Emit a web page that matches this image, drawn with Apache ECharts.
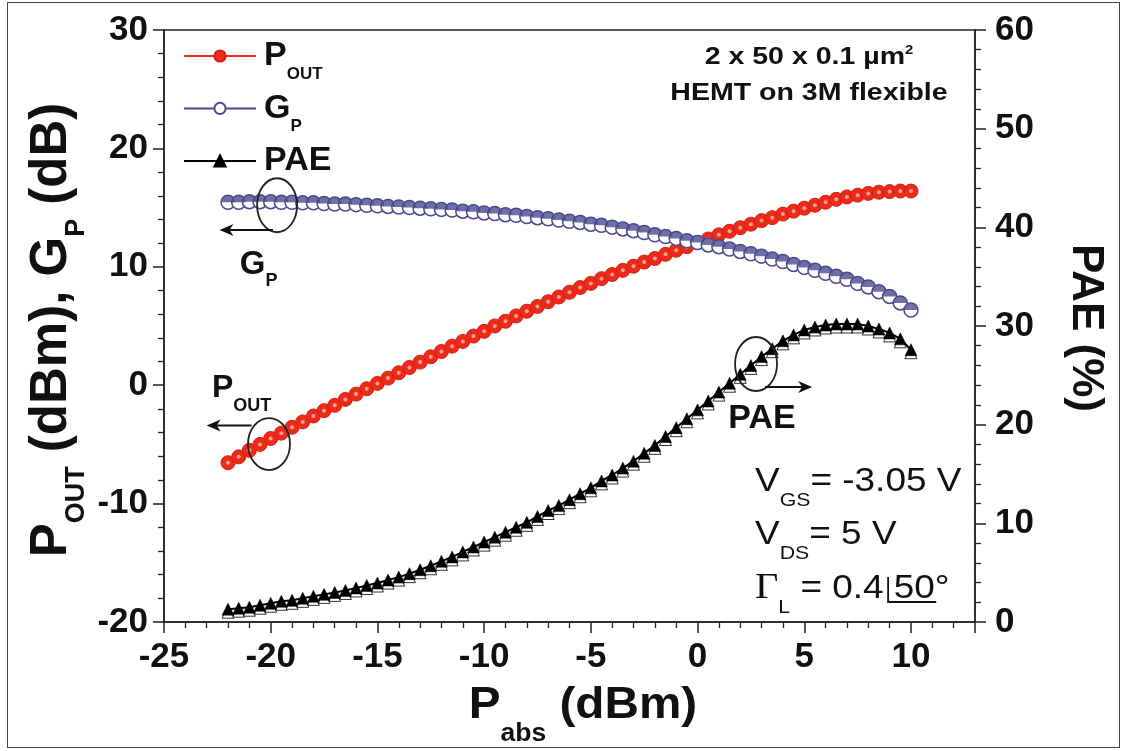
<!DOCTYPE html>
<html>
<head>
<meta charset="utf-8">
<script src="https://cdn.jsdelivr.net/npm/echarts@6/dist/echarts.min.js"></script>
<style>
html,body{margin:0;padding:0;background:#fff;}
#chart{position:absolute;left:0;top:0;width:1125px;height:751px;}
#frame{position:absolute;left:7px;top:2px;width:1113px;height:746px;border:1.5px solid #444;box-sizing:border-box;z-index:5;pointer-events:none;}
</style>
</head>
<body>
<div id="chart"></div>
<div id="frame"></div>
<script>
// ---- data ----
const pabs = [-22,-21.5,-21,-20.5,-20,-19.5,-19,-18.5,-18,-17.5,-17,-16.5,-16,-15.5,-15,-14.5,-14,-13.5,-13,-12.5,-12,-11.5,-11,-10.5,-10,-9.5,-9,-8.5,-8,-7.5,-7,-6.5,-6,-5.5,-5,-4.5,-4,-3.5,-3,-2.5,-2,-1.5,-1,-0.5,0,0.5,1,1.5,2,2.5,3,3.5,4,4.5,5,5.5,6,6.5,7,7.5,8,8.5,9,9.5,10];
const pout = [-6.55,-6.05,-5.5,-5.0,-4.5,-4.05,-3.55,-3.1,-2.6,-2.15,
  -1.7,-1.2,-0.75,-0.3,0.15,0.6,1.05,1.5,1.95,2.4,
  2.85,3.3,3.7,4.15,4.55,5.0,5.4,5.85,6.25,6.65,
  7.05,7.45,7.85,8.25,8.6,9.0,9.35,9.7,10.05,10.4,
  10.7,11.05,11.4,11.7,12.05,12.35,12.7,13.0,13.3,13.6,
  13.9,14.15,14.45,14.7,14.95,15.2,15.45,15.7,15.9,16.05,
  16.2,16.3,16.35,16.4,16.4];
const gp = [15.45,15.45,15.5,15.5,15.5,15.45,15.45,15.4,15.4,15.35,
  15.3,15.3,15.25,15.2,15.15,15.1,15.05,15.0,14.95,14.9,
  14.85,14.8,14.7,14.65,14.55,14.5,14.4,14.35,14.25,14.15,
  14.05,13.95,13.85,13.75,13.6,13.5,13.35,13.2,13.05,12.9,
  12.7,12.55,12.4,12.2,12.05,11.85,11.7,11.5,11.3,11.1,
  10.9,10.65,10.45,10.2,9.95,9.7,9.45,9.2,8.95,8.6,
  8.3,7.9,7.5,6.95,6.35];
const pae = [1.3,1.4,1.5,1.7,1.9,2.1,2.2,2.4,2.6,2.8,
  3.0,3.2,3.45,3.7,3.95,4.25,4.55,4.9,5.3,5.7,
  6.15,6.6,7.1,7.6,8.1,8.6,9.1,9.6,10.1,10.7,
  11.3,11.8,12.4,13.0,13.6,14.3,14.9,15.6,16.3,17.1,
  17.9,18.8,19.7,20.6,21.5,22.4,23.3,24.2,25.1,26.0,
  26.9,27.7,28.5,29.1,29.6,29.9,30.1,30.2,30.2,30.2,
  30.0,29.7,29.3,28.7,27.6];
const seriesNames = ['POUT','GP','PAE'];
const xAxisRange = [-25, 13, 5];
const yLeftRange = [-20, 30, 10];
const yRightRange = [0, 60, 10];

const FONT = '"Liberation Sans", Arial, sans-serif';
const SERIF = '"Liberation Serif", "Times New Roman", serif';
const RED = '#ee2a1b', BLUE = '#4b4a8e', BLACK = '#000', INK = '#111';

function pairs(ys){ return pabs.map((x,i)=>[x, ys[i]]); }

// rich-text styles with a real subscript: main token centred in a tall line,
// subscript token pinned to the bottom of that line
function subRich(fm, fs, drop, bold, extra){
  const d = drop + 0.35*(fm - fs);
  const L = fs, H = L + 2*d;
  const fw = bold ? 'bold' : 'normal';
  const r = {
    m:{fontFamily:FONT, fontWeight:fw, fontSize:fm, color:INK, fill:INK, lineHeight:H, verticalAlign:'middle'},
    s:{fontFamily:FONT, fontWeight:fw, fontSize:fs, color:INK, fill:INK, lineHeight:L, verticalAlign:'bottom'}
  };
  return Object.assign(r, extra||{});
}

const chart = echarts.init(document.getElementById('chart'), null, {renderer:'canvas'});

const axisCommon = {
  axisLine:{show:true, onZero:false, lineStyle:{color:'#222', width:1.5}},
  axisTick:{show:true, inside:false, length:11, lineStyle:{color:'#222', width:1.5}},
  minorTick:{show:true, splitNumber:5, length:6, lineStyle:{color:'#222', width:1.3}},
  splitLine:{show:false}
};
const tickFont = {color:INK, fontFamily:FONT, fontWeight:'bold'};

const option = {
  animation:false,
  backgroundColor:'#fff',
  grid:{left:164, right:150, top:30, bottom:129, show:true, borderColor:'#222', borderWidth:1.5, containLabel:false},
  xAxis:Object.assign({type:'value', min:xAxisRange[0], max:xAxisRange[1], interval:xAxisRange[2]}, axisCommon,
    {axisLabel:Object.assign({fontSize:35, margin:18, showMaxLabel:false}, tickFont)}),
  yAxis:[
    Object.assign({type:'value', min:yLeftRange[0], max:yLeftRange[1], interval:yLeftRange[2], position:'left'}, axisCommon,
      {axisLabel:Object.assign({fontSize:35, margin:16}, tickFont)}),
    Object.assign({type:'value', min:yRightRange[0], max:yRightRange[1], interval:yRightRange[2], position:'right'}, axisCommon,
      {axisLabel:Object.assign({fontSize:35, margin:20}, tickFont)})
  ],
  legend:{
    orient:'vertical', left:178, top:34, itemWidth:72, itemHeight:14, itemGap:9,
    data:seriesNames,
    formatter:function(n){
      if(n==='POUT') return '{m|P}{s|OUT}';
      if(n==='GP') return '{m|G}{s|P}';
      return '{m|PAE}';
    },
    textStyle:{fontFamily:FONT, fontWeight:'bold', fontSize:34, color:INK, padding:[0,0,0,3], rich:subRich(34, 17, 12, true)}
  },
  series:[
    {name:'PAE-shadow', type:'scatter', yAxisIndex:1, data:pairs(pae), symbol:'triangle', symbolSize:12, symbolOffset:[0,3],
      itemStyle:{color:'#fff', borderColor:'#000', borderWidth:1}, z:1, silent:true},
    {name:'PAE', type:'line', yAxisIndex:1, data:pairs(pae), symbol:'triangle', symbolSize:12, showAllSymbol:true,
      itemStyle:{color:BLACK, borderColor:'#000', borderWidth:0.5}, lineStyle:{color:BLACK, width:2}, z:2},
    {name:'POUT', type:'line', yAxisIndex:0, data:pairs(pout), symbol:'circle', symbolSize:14, showAllSymbol:true,
      itemStyle:{color:RED, borderColor:'#d42010', borderWidth:1}, lineStyle:{color:RED, width:2.5}, z:3},
    {name:'POUT-hl', type:'scatter', yAxisIndex:0, data:pairs(pout), symbol:'circle', symbolSize:4,
      itemStyle:{color:'#ffc2b5'}, z:4, silent:true},
    {name:'GP', type:'line', yAxisIndex:0, data:pairs(gp), symbol:'circle', symbolSize:14, showAllSymbol:true,
      itemStyle:{color:'#fff', borderColor:BLUE, borderWidth:1.5}, lineStyle:{color:BLUE, width:2.5}, z:5},
    {name:'GP-top', type:'scatter', yAxisIndex:0, data:pairs(gp), symbol:'path://M0,10 A10,10 0 0 1 20,10 Z',
      symbolSize:[14,7], symbolOffset:[0,-3.5], itemStyle:{color:BLUE}, z:6, silent:true}
  ]
};
chart.setOption(option);

// ---- annotations (placed in data coordinates of the left axis) ----
function px(x,y){ return chart.convertToPixel({xAxisIndex:0, yAxisIndex:0}, [x,y]); }
function arrow(p0, p1){
  const dir = Math.sign(p1[0]-p0[0]);
  return [
    {type:'polyline', shape:{points:[p0,[p1[0]-dir*6,p1[1]]]}, style:{stroke:INK, lineWidth:2}, z:20},
    {type:'polygon', shape:{points:[[p1[0],p1[1]],[p1[0]-dir*14,p1[1]-6],[p1[0]-dir*10,p1[1]],[p1[0]-dir*14,p1[1]+6]]}, style:{fill:INK}, z:20}
  ];
}
function ellipse(c, rx, ry){
  return {type:'ellipse', shape:{cx:c[0], cy:c[1], rx:rx, ry:ry}, style:{fill:null, stroke:'#222', lineWidth:1.8}, z:20};
}
function rtext(p, text, rich, align, extra){
  return Object.assign({type:'text', x:p[0], y:p[1], z:21,
    style:{text:text, rich:rich, align:align||'left', verticalAlign:'middle', fill:INK}}, extra||{});
}

const g = [];
g.push(ellipse(px(-19.7, 15.2), 20, 27));
g.push(...arrow(px(-19.9, 13.1), px(-22.4, 13.1)));
g.push(rtext(px(-21.45, 10.15), '{m|G}{s|P}', subRich(33, 18, 11, true)));
g.push(ellipse(px(-20.08, -4.97), 21, 26));
g.push(...arrow(px(-20.9, -3.4), px(-23.0, -3.4)));
g.push(rtext(px(-22.75, -0.28), '{m|P}{s|OUT}', subRich(32, 18, 13, true)));
g.push(ellipse(px(2.74, 1.79), 21, 27));
g.push(...arrow(px(3.16, -0.15), px(5.37, -0.15)));
g.push(rtext(px(3.02, -2.85), '{m|PAE}', subRich(34, 18, 10, true), 'center'));

// bias / load conditions
const condX = 755, condSX = 1.12;
const condRich = subRich(33, 19, 14, false, {
  g:{fontFamily:SERIF, fontSize:36, fill:INK, lineHeight:56, verticalAlign:'middle'},
  sp:{width:9, fontSize:33, lineHeight:56, verticalAlign:'middle'}
});
g.push(rtext([condX, 482], '{m|V}{s|GS}{m|= -3.05 V}', condRich, 'left', {scaleX:condSX}));
g.push(rtext([condX, 535], '{m|V}{s|DS}{m|= 5 V}', condRich, 'left', {scaleX:condSX}));
g.push(rtext([condX, 589], '{g|Γ}{s|L}{m| = 0.4}{sp| }{m|50°}', condRich, 'left', {scaleX:condSX}));
// phasor angle mark  |50
const mc = document.createElement('canvas').getContext('2d');
function w(t, f){ mc.font = f; return mc.measureText(t).width; }
const xBar = condX + condSX * (w('Γ', '36px "Liberation Serif"') + w('L', '19px "Liberation Sans"') + w(' = 0.4', '33px "Liberation Sans"') + 4);
const w50 = condSX * w('50', '33px "Liberation Sans"');
g.push({type:'polyline', shape:{points:[[xBar, 577],[xBar, 602],[xBar + w50 + 7, 602]]}, style:{stroke:INK, lineWidth:1.8}, z:21});

// device description
g.push({type:'text', x:809, y:58, scaleX:1.24, z:21, style:{text:'{m|2 x 50 x 0.1 µm}{p|2}', align:'center', verticalAlign:'middle',
  rich:{m:{fontFamily:FONT, fontWeight:'bold', fontSize:23, fill:INK, lineHeight:26, verticalAlign:'middle'},
        p:{fontFamily:FONT, fontWeight:'bold', fontSize:12, fill:INK, lineHeight:8, verticalAlign:'top'}}}});
g.push({type:'text', x:809, y:94, scaleX:1.24, z:21, style:{text:'HEMT on 3M flexible', align:'center', verticalAlign:'middle',
  font:'bold 23px ' + FONT, fill:INK}});

// axis titles
g.push({type:'text', x:583, y:706, scaleX:1.06, z:21,
  style:{text:'{m|P}{s|abs}{m| (dBm)}', align:'center', verticalAlign:'middle', rich:subRich(45, 25, 21, true)}});
g.push({type:'text', x:52, y:330, rotation:Math.PI/2, z:21,
  style:{text:'{m|P}{s|OUT}{m| (dBm), G}{s|P}{m| (dB)}', align:'center', verticalAlign:'middle', rich:subRich(51, 27, 16, true)}});
g.push({type:'text', x:1085, y:328, rotation:-Math.PI/2, z:21, style:{text:'PAE (%)', align:'center', verticalAlign:'middle',
  font:'bold 44px ' + FONT, fill:INK}});

chart.setOption({graphic:{elements:g}});
</script>
</body>
</html>
